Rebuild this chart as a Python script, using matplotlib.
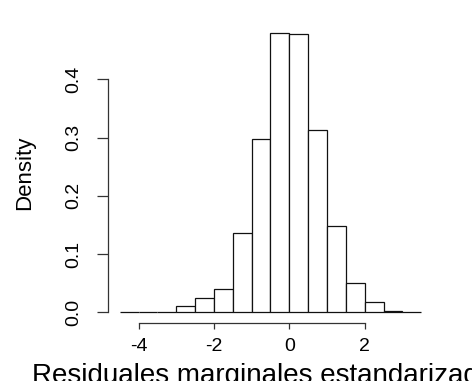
import numpy as np
import matplotlib
matplotlib.use("Agg")
import matplotlib.pyplot as plt

plt.rcParams['font.family'] = ['Liberation Sans', 'DejaVu Sans']

# Data (density, bin width 0.5)
bin_edges = [-4.5, -4.0, -3.5, -3.0, -2.5, -2.0, -1.5, -1.0, -0.5,
             0.0, 0.5, 1.0, 1.5, 2.0, 2.5, 3.0, 3.5]
density = [0.0005, 0.0005, 0.001, 0.010, 0.024, 0.040, 0.136, 0.297,
           0.480, 0.478, 0.314, 0.149, 0.051, 0.017, 0.003, 0.001]
x_ticks = [-4, -2, 0, 2]
y_ticks = [0.0, 0.1, 0.2, 0.3, 0.4]
y_ticklabels = ["0.0", "0.1", "0.2", "0.3", "0.4"]
x_label = "Residuales marginales estandarizados"
y_label = "Density"

fig = plt.figure(figsize=(4.72, 3.81), dpi=100)
ax = fig.add_axes([0.228, 0.151, 0.69, 0.792])

edges = np.array(bin_edges)
widths = np.diff(edges)
ax.bar(edges[:-1], density, width=widths, align='edge',
       facecolor='white', edgecolor='#111111', linewidth=0.9)

ax.set_xlim(-4.82, 3.82)
ax.set_ylim(-0.0192, 0.4992)

for s in ['top', 'right']:
    ax.spines[s].set_visible(False)
ax.spines['left'].set_bounds(0.0, 0.4)
ax.spines['bottom'].set_bounds(-4, 2)
for s in ['left', 'bottom']:
    ax.spines[s].set_color('#333333')
    ax.spines[s].set_linewidth(0.9)

ax.set_xticks(x_ticks)
ax.set_xticklabels([str(t) for t in x_ticks])
ax.set_yticks(y_ticks)
ax.set_yticklabels(y_ticklabels, rotation=90, va='center')

ax.tick_params(axis='y', direction='out', length=8, width=0.9,
               color='#333333', pad=10, labelsize=14)
ax.tick_params(axis='x', direction='out', length=4.3, width=0.9,
               color='#333333', pad=6, labelsize=14)

ax.set_xlabel(x_label, fontsize=20)
ax.xaxis.set_label_coords(0.5, -0.13)
ax.set_ylabel(y_label, fontsize=16)
ax.yaxis.label.set_horizontalalignment('center')
ax.yaxis.label.set_verticalalignment('center')
ax.yaxis.set_label_coords(-0.2536, 0.5)

fig.savefig("out.png", dpi=100)
